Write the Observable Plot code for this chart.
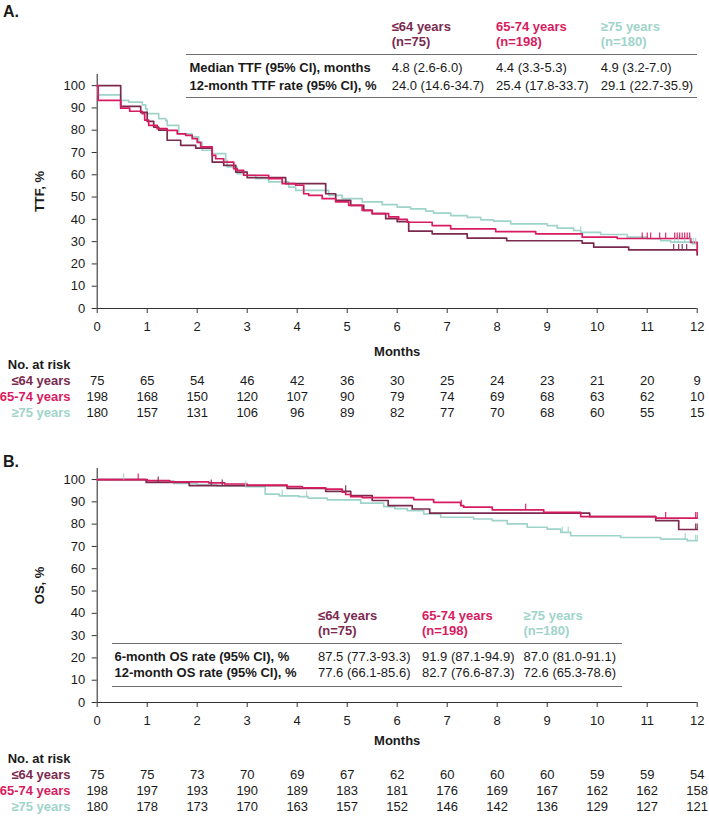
<!DOCTYPE html>
<html>
<head>
<meta charset="utf-8">
<script src="https://cdn.jsdelivr.net/npm/d3@7"></script>
<script src="https://cdn.jsdelivr.net/npm/@observablehq/plot@0.6"></script>
<style>
  body { margin: 0; background: #fff; }
  #fig { position: relative; width: 709px; height: 816px; overflow: hidden;
         font-family: "Liberation Sans", Arial, Helvetica, sans-serif; color: #1a1a1a; background: #fff; }
  #fig svg { position: absolute; left: 0; }
  .t { position: absolute; font-size: 13px; line-height: 16px; white-space: nowrap; }
  .b { font-weight: bold; }
  .panel { position: absolute; font-size: 16px; line-height: 18px; font-weight: bold; }
  .rule { position: absolute; height: 0; border-top: 1.5px solid #6e6e6e; }
</style>
</head>
<body>
<div id="fig"></div>
<script>
// ---- groups ----
const groups = ["≤64 years", "65-74 years", "≥75 years"];
const groupN = [75, 198, 180];
const groupColors = ["#7b2a4f", "#d81b60", "#9fd4cb"];

// ---- axis ticks ----
const monthTicks = [0, 1, 2, 3, 4, 5, 6, 7, 8, 9, 10, 11, 12];
const pctTicks = [0, 10, 20, 30, 40, 50, 60, 70, 80, 90, 100];

// ---- time to treatment failure, Kaplan-Meier steps [month, %] ----
const ttfLe64 = [[0,100],[0.47,90.7],[0.87,88.0],[1.0,84.0],[1.13,81.4],[1.23,80.0],[1.4,75.5],[1.67,73.2],[1.97,72.0],
  [2.3,65.7],[2.53,64.2],[2.77,61.2],[3.0,58.7],[3.77,56.0],[4.57,51.5],[4.77,48.5],[5.07,46.3],[5.33,44.0],[5.5,42.6],
  [5.77,40.3],[6.0,39.0],[6.23,34.7],[6.7,33.5],[7.4,31.6],[8.19,30.4],[9.7,29.3],[9.93,27.5],[10.63,26.3],[12.0,24.0]];
const ttf6574 = [[0,100],[0.02,93.4],[0.47,89.9],[0.65,88.5],[0.9,87.4],[0.95,84.5],[1.03,82.2],[1.2,80.7],[1.4,79.9],
  [1.6,78.4],[1.77,77.7],[1.9,76.2],[2.0,74.5],[2.07,72.5],[2.3,68.7],[2.37,67.2],[2.53,65.7],[2.73,62.7],[2.8,62.0],
  [2.93,59.8],[3.43,58.3],[3.7,56.0],[3.97,55.3],[4.13,51.5],[4.23,50.8],[4.5,49.3],[4.77,47.8],[5.03,46.3],[5.3,44.0],
  [5.5,42.6],[5.83,41.1],[6.03,40.0],[6.2,38.7],[6.7,37.2],[7.07,35.7],[7.97,34.5],[8.77,33.5],[9.7,32.0],[10.4,31.4],
  [11.87,29.7],[12.0,25.4]];
const ttfGe75 = [[0,100],[0.02,95.9],[0.47,93.4],[0.63,92.6],[0.9,91.4],[0.97,89.6],[1.0,87.4],[1.23,85.2],[1.37,84.4],
  [1.4,82.2],[1.63,78.4],[1.9,77.0],[2.03,74.5],[2.1,71.0],[2.3,69.5],[2.57,66.5],[2.6,63.5],[2.8,60.5],[2.93,59.8],
  [3.17,58.3],[3.43,56.8],[3.83,54.5],[3.97,53.0],[4.63,50.8],[4.9,49.3],[5.3,47.8],[5.7,46.6],[6.0,45.5],[6.27,44.7],
  [6.57,43.7],[6.73,42.8],[7.07,41.7],[7.4,40.9],[7.67,39.8],[7.93,39.2],[8.27,38.0],[9.0,37.2],[9.2,36.1],[9.53,35.0],
  [9.67,34.2],[10.07,33.2],[10.6,32.0],[11.0,31.3],[11.27,30.5],[11.47,29.8],[11.9,29.1],[12.0,29.1]];
const ttfCensorLe64 = [11.53, 11.63, 11.7, 11.79];
const ttfCensor6574 = [10.9, 11.0, 11.07, 11.25, 11.37, 11.55, 11.6, 11.65, 11.7, 11.75, 11.8, 11.85];
const ttfCensorGe75 = [9.67, 11.55, 11.62, 11.75, 11.85, 11.92, 11.97];

// ---- overall survival, Kaplan-Meier steps [month, %] ----
const osLe64 = [[0,100],[0.98,98.7],[1.84,97.3],[3.8,96.0],[4.57,94.7],[5.07,92.8],[5.5,90.6],[5.82,88.3],[6.3,86.8],
  [6.65,84.9],[9.85,83.4],[11.17,81.6],[11.63,77.6],[12.0,77.6]];
const os6574 = [[0,100],[1.0,99.5],[1.45,99.0],[2.23,98.5],[2.55,98.0],[3.0,97.5],[3.8,96.8],[4.1,96.3],[4.57,95.7],
  [4.9,94.3],[4.97,93.3],[5.07,92.3],[5.3,91.9],[6.33,91.0],[6.73,89.8],[7.27,88.3],[7.33,87.6],[7.9,86.4],[8.93,85.3],
  [9.67,83.4],[11.17,82.7],[12.0,82.7]];
const osGe75 = [[0,100],[0.98,99.4],[1.53,98.3],[2.0,97.7],[2.39,97.2],[2.97,96.8],[3.36,93.5],[3.64,92.7],[4.03,92.3],
  [4.22,91.7],[4.6,90.9],[5.27,89.4],[5.73,87.9],[5.95,87.0],[6.2,86.1],[6.53,84.6],[6.87,83.1],[7.53,82.3],[7.9,81.6],
  [8.2,80.1],[8.6,78.6],[9.0,77.8],[9.27,76.3],[9.47,74.8],[10.47,74.0],[11.27,73.3],[11.8,72.6],[12.0,72.6]];
const osCensorLe64 = [1.22, 2.28, 2.5, 4.97, 11.97, 12.0];
const osCensor6574 = [0.82, 7.28, 8.57, 11.37, 11.97, 12.0];
const osCensorGe75 = [0.53, 2.97, 3.7, 4.19, 9.3, 9.42, 11.76, 11.97, 12.0];

// ---- summary tables ----
const ttfMedian = ["4.8 (2.6-6.0)", "4.4 (3.3-5.3)", "4.9 (3.2-7.0)"];
const ttfRate12 = ["24.0 (14.6-34.7)", "25.4 (17.8-33.7)", "29.1 (22.7-35.9)"];
const osRate6 = ["87.5 (77.3-93.3)", "91.9 (87.1-94.9)", "87.0 (81.0-91.1)"];
const osRate12 = ["77.6 (66.1-85.6)", "82.7 (76.6-87.3)", "72.6 (65.3-78.6)"];

// ---- numbers at risk ----
const ttfRiskLe64 = [75, 65, 54, 46, 42, 36, 30, 25, 24, 23, 21, 20, 9];
const ttfRisk6574 = [198, 168, 150, 120, 107, 90, 79, 74, 69, 68, 63, 62, 10];
const ttfRiskGe75 = [180, 157, 131, 106, 96, 89, 82, 77, 70, 68, 60, 55, 15];
const osRiskLe64 = [75, 75, 73, 70, 69, 67, 62, 60, 60, 60, 59, 59, 54];
const osRisk6574 = [198, 197, 193, 190, 189, 183, 181, 176, 169, 167, 162, 162, 158];
const osRiskGe75 = [180, 178, 173, 170, 163, 157, 152, 146, 142, 136, 129, 127, 121];

// ---------------------------------------------------------------
const fig = document.getElementById("fig");
const FONT = '"Liberation Sans", Arial, Helvetica, sans-serif';
const INK = "#1a1a1a";
const AXIS = "#333";
const ML = 96.7, MR = 12.3;          // shared horizontal frame for charts and risk rows
const drawOrder = [2, 0, 1];         // teal underneath, crimson on top

// value of a step curve at time t
function survAt(curve, t) {
  let v = curve[0][1];
  for (const [tt, s] of curve) { if (tt <= t) v = s; else break; }
  return v;
}

// censoring mark: a short vertical stroke rising from the curve
const censorTick = {
  draw(ctx, size) {
    const r = Math.sqrt(size / Math.PI);
    ctx.moveTo(0, 0);
    ctx.lineTo(0, -r);
  }
};

function kmPlot({curves, censors, yTitle, height, marginTop, marginBottom, monthsDy}) {
  const lines = drawOrder.flatMap(g => curves[g].map(([t, s]) => ({t, s, g: groups[g]})));
  const ticks = drawOrder.flatMap(g => censors[g].map(t => ({t, s: survAt(curves[g], t), g: groups[g]})));
  return Plot.plot({
    width: 709, height, marginTop, marginBottom, marginLeft: ML, marginRight: MR,
    style: {fontFamily: FONT, fontSize: "13px", color: INK, background: "transparent", overflow: "visible"},
    x: {domain: [0, 12]},
    y: {domain: [0, 105]},
    color: {domain: groups, range: groupColors},
    marks: [
      Plot.axisY({ticks: pctTicks, tickSize: 5, tickPadding: 7, label: null, stroke: AXIS, fontSize: 13}),
      Plot.axisX({ticks: monthTicks, tickSize: 5, tickPadding: 8, label: null, stroke: AXIS, fontSize: 13, tickFormat: d => String(d)}),
      Plot.ruleX([0], {stroke: AXIS, strokeWidth: 1.1}),
      Plot.ruleY([0], {stroke: AXIS, strokeWidth: 1.1}),
      Plot.line(lines, {x: "t", y: "s", z: "g", stroke: "g", curve: "step-after", strokeWidth: 1.7}),
      Plot.dot(ticks, {x: "t", y: "s", stroke: "g", fill: "none", symbol: censorTick, r: 6, strokeWidth: 1.1}),
      Plot.text([yTitle], {text: d => d, frameAnchor: "left", dx: -57, rotate: -90,
        textAnchor: "middle", lineAnchor: "middle", fontWeight: "bold", fontSize: 13, fill: INK}),
      Plot.text(["Months"], {text: d => d, frameAnchor: "bottom", dy: monthsDy,
        textAnchor: "middle", lineAnchor: "middle", fontWeight: "bold", fontSize: 13, fill: INK})
    ]
  });
}

function riskPlot(rows, rowGap) {
  const cells = rows.flatMap((r, g) => r.map((n, i) => ({t: monthTicks[i], n, g: groups[g]})));
  const rowNames = ["No. at risk", ...groups];
  return Plot.plot({
    width: 709, height: 10 + 3 * rowGap + 10, marginTop: 10, marginBottom: 10, marginLeft: ML, marginRight: MR,
    style: {fontFamily: FONT, fontSize: "13px", color: INK, background: "transparent", overflow: "visible"},
    x: {domain: [0, 12], axis: null},
    y: {type: "point", domain: rowNames, range: [10, 10 + 3 * rowGap], padding: 0, axis: null},
    color: {domain: groups, range: groupColors},
    marks: [
      Plot.text(cells, {x: "t", y: "g", text: d => String(d.n), fill: INK, fontSize: 13}),
      Plot.text(groups, {y: d => d, text: d => d, fill: d => d, frameAnchor: "left", dx: -26.7,
        textAnchor: "end", fontWeight: "bold", fontSize: 13}),
      Plot.text(["No. at risk"], {y: d => d, text: d => d, fill: INK, frameAnchor: "left", dx: -26.7,
        textAnchor: "end", fontWeight: "bold", fontSize: 13})
    ]
  });
}

function place(el, top) { el.style.top = top + "px"; fig.appendChild(el); }

function label(text, x, yMid, cls, color) {
  const s = document.createElement("div");
  s.className = cls;
  s.textContent = text;
  s.style.left = x + "px";
  s.style.top = (yMid - 8) + "px";
  if (color) s.style.color = color;
  fig.appendChild(s);
}
function hrule(x1, x2, y) {
  const r = document.createElement("div");
  r.className = "rule";
  r.style.left = x1 + "px";
  r.style.width = (x2 - x1) + "px";
  r.style.top = (y - 0.75) + "px";
  fig.appendChild(r);
}
function summaryTable({colX, headY, ruleX1, ruleX2, ruleTop, rowX, rows, ruleBottom}) {
  groups.forEach((g, i) => {
    label(g, colX[i], headY, "t b", groupColors[i]);
    label(`(n=${groupN[i]})`, colX[i], headY + 15.5, "t b", groupColors[i]);
  });
  hrule(ruleX1, ruleX2, ruleTop);
  rows.forEach(({name, values, y}) => {
    label(name, rowX, y, "t b");
    values.forEach((v, i) => label(v, colX[i], y, "t"));
  });
  hrule(ruleX1, ruleX2, ruleBottom);
}
function panelLetter(text, yMid) {
  const d = document.createElement("div");
  d.className = "panel";
  d.textContent = text;
  d.style.left = "3px";
  d.style.top = (yMid - 9) + "px";
  fig.appendChild(d);
}

// ---------------- panel A: time to treatment failure ----------------
panelLetter("A.", 12);
place(kmPlot({
  curves: [ttfLe64, ttf6574, ttfGe75],
  censors: [ttfCensorLe64, ttfCensor6574, ttfCensorGe75],
  yTitle: "TTF, %", height: 360, marginTop: 74, marginBottom: 52, monthsDy: 43.5
}), 0);
summaryTable({
  colX: [391.7, 496, 600.7], headY: 26.7,
  ruleX1: 186, ruleX2: 697, ruleTop: 55, rowX: 189.5, ruleBottom: 97.7,
  rows: [
    {name: "Median TTF (95% CI), months", values: ttfMedian, y: 68.3},
    {name: "12-month TTF rate (95% CI), %", values: ttfRate12, y: 86}
  ]
});
place(riskPlot([ttfRiskLe64, ttfRisk6574, ttfRiskGe75], 16.9), 352.7);

// ---------------- panel B: overall survival ----------------
panelLetter("B.", 462);
place(kmPlot({
  curves: [osLe64, os6574, osGe75],
  censors: [osCensorLe64, osCensor6574, osCensorGe75],
  yTitle: "OS, %", height: 310, marginTop: 27.9, marginBottom: 48, monthsDy: 38
}), 440);
summaryTable({
  colX: [318, 422, 523.5], headY: 615.7,
  ruleX1: 111.8, ruleX2: 622, ruleTop: 644, rowX: 114.5, ruleBottom: 686.7,
  rows: [
    {name: "6-month OS rate (95% CI), %", values: osRate6, y: 657.3},
    {name: "12-month OS rate (95% CI), %", values: osRate12, y: 673.3}
  ]
});
place(riskPlot([osRiskLe64, osRisk6574, osRiskGe75], 16.7), 746.7);
</script>
</body>
</html>
